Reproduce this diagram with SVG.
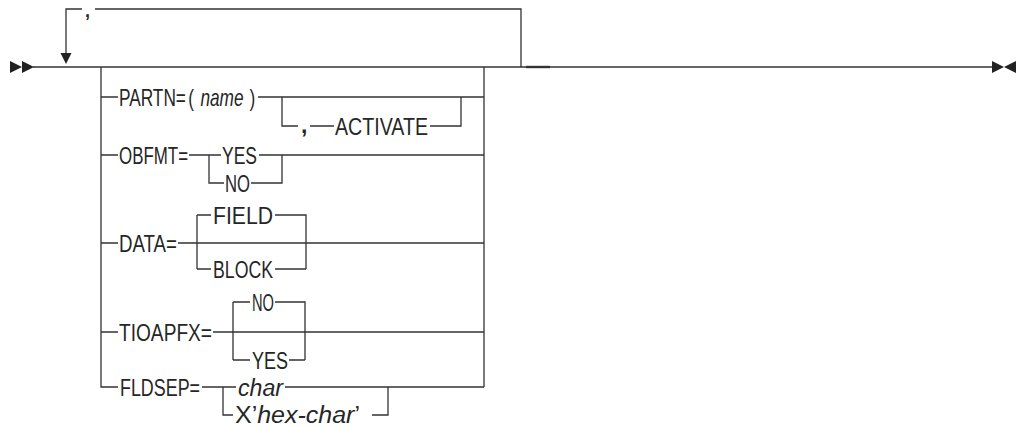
<svg xmlns="http://www.w3.org/2000/svg" width="1018" height="427" viewBox="0 0 1018 427">
<style>
.ln{fill:none;stroke:#333;stroke-width:1.3}
.ah{fill:#222;stroke:none}
text{font-family:"Liberation Sans",Arial,sans-serif;font-size:23px;fill:#262626}
.it{font-style:italic}
</style>
<rect width="1018" height="427" fill="#fff"/>
<g id="connectors">
<path class="ln" d="M33,67 H995"/>
<path class="ln" d="M526,67 H550" style="stroke-width:2.4"/>
<path class="ln" d="M66,56 V9 H82 M95,9 H521 V67"/>
<path class="ln" d="M101,67 V387 H118 M484,67 V387"/>
<path class="ln" d="M101,97 H118 M101,155 H118 M101,243 H118 M101,332 H118"/>
<path class="ln" d="M258,97 H484 M282,97 V126 H298 M310,126 H334 M430,126 H461 V97"/>
<path class="ln" d="M189,155 H221 M259,155 H484 M209,155 V183 H224 M251,183 H282 V155"/>
<path class="ln" d="M178,243 H484 M197,215 V269 M197,215 H211 M275,215 H306 V269 M197,269 H211 M275,269 H306"/>
<path class="ln" d="M213,332 H484 M233,302 V360 M233,302 H250 M275,302 H305 V360 M233,360 H250 M289,360 H305"/>
<path class="ln" d="M202,387 H236 M285,387 H484 M223,387 V415 H233 M372,415 H388 V387"/>
<polygon class="ah" points="60.5,53 71.5,53 66,64"/>
<polygon class="ah" points="10,61 22,67 10,73"/>
<polygon class="ah" points="22,61 34,67 22,73"/>
<polygon class="ah" points="992,61 1004,67 992,73"/>
<polygon class="ah" points="1016,61 1004,67 1016,73"/>
</g>
<g id="loop-sep"><text x="85" y="17" style="font-size:18px;font-weight:bold">,</text></g>
<g id="partn">
<text transform="matrix(0.75 0 0 1 119 105.5)" x="0" y="0">PARTN=<tspan dx="3.3">(</tspan><tspan dx="8.4" class="it">name</tspan><tspan dx="7.8">)</tspan></text>
</g>
<g id="activate">
<text x="301" y="133" style="font-weight:bold">,</text>
<text x="335" y="134.5" textLength="93" lengthAdjust="spacingAndGlyphs">ACTIVATE</text>
</g>
<g id="obfmt">
<text x="119" y="163.5" textLength="69" lengthAdjust="spacingAndGlyphs">OBFMT=</text>
</g>
<g id="obfmt-yes"><text x="222" y="163.5" textLength="35" lengthAdjust="spacingAndGlyphs">YES</text></g>
<g id="obfmt-no"><text x="225" y="191.5" textLength="25" lengthAdjust="spacingAndGlyphs">NO</text></g>
<g id="data"><text x="119" y="251.5" textLength="58" lengthAdjust="spacingAndGlyphs">DATA=</text></g>
<g id="data-field"><text x="213" y="223.5" textLength="60" lengthAdjust="spacingAndGlyphs">FIELD</text></g>
<g id="data-block"><text x="213" y="277.5" textLength="60" lengthAdjust="spacingAndGlyphs">BLOCK</text></g>
<g id="tioapfx"><text x="119" y="340.5" textLength="93" lengthAdjust="spacingAndGlyphs">TIOAPFX=</text></g>
<g id="tioapfx-no"><text x="252" y="310.5" textLength="22" lengthAdjust="spacingAndGlyphs">NO</text></g>
<g id="tioapfx-yes"><text x="252" y="368.5" textLength="36" lengthAdjust="spacingAndGlyphs">YES</text></g>
<g id="fldsep"><text x="120" y="395.5" textLength="80" lengthAdjust="spacingAndGlyphs">FLDSEP=</text></g>
<g id="fldsep-char"><text class="it" x="238" y="395.5" textLength="45" lengthAdjust="spacingAndGlyphs">char</text></g>
<g id="fldsep-hex"><text x="235" y="423" textLength="125" lengthAdjust="spacingAndGlyphs">X’<tspan class="it">hex-char</tspan>’</text></g>
</svg>
